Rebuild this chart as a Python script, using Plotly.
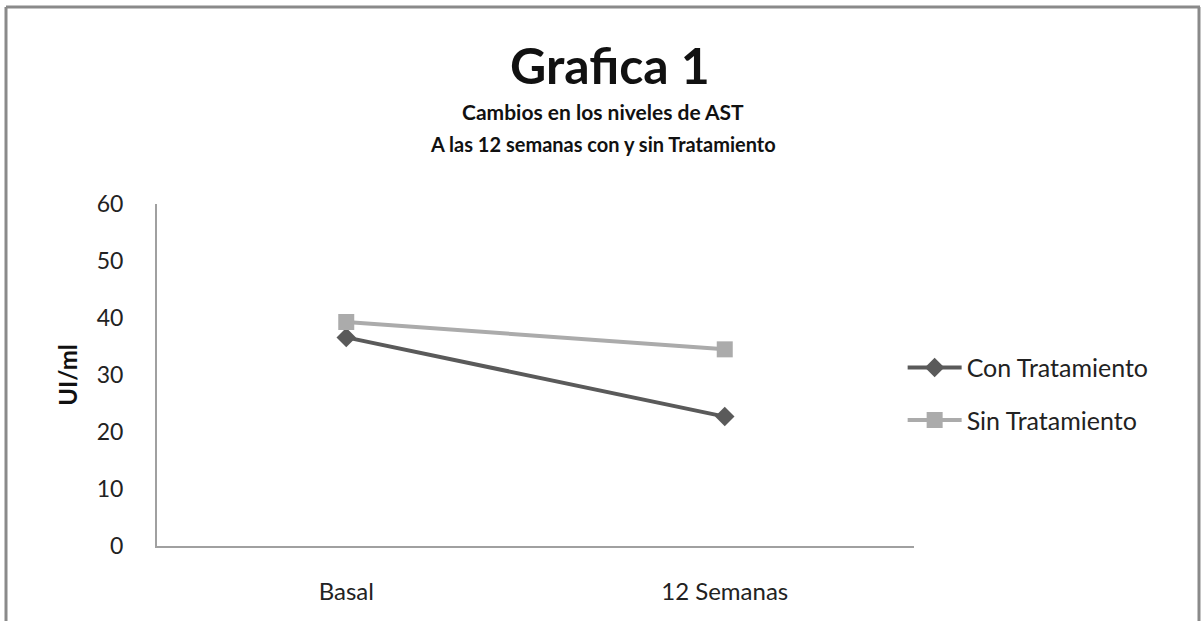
import plotly.graph_objects as go

# Chart data
categories = ["Basal", "12 Semanas"]
con_tratamiento = [36.6, 22.7]
sin_tratamiento = [39.3, 34.5]
y_ticks = [0, 10, 20, 30, 40, 50, 60]

FONT = "Lato, 'Open Sans', sans-serif"

fig = go.Figure()

fig.add_trace(go.Scatter(
    x=categories, y=con_tratamiento, name="Con Tratamiento",
    mode="lines+markers", legendgroup="con",
    line=dict(color="#5a5a5a", width=4),
    marker=dict(symbol="diamond", size=15, color="#5a5a5a"),
))
fig.add_trace(go.Scatter(
    x=categories, y=sin_tratamiento, name="Sin Tratamiento",
    mode="lines+markers", legendgroup="sin",
    line=dict(color="#ababab", width=4),
    marker=dict(symbol="square", size=16, color="#ababab"),
))

fig.update_layout(
    width=1202, height=621,
    margin=dict(l=157, r=288, t=204, b=75),
    paper_bgcolor="white", plot_bgcolor="white",
    font=dict(family=FONT, color="#222222"),
    showlegend=True,
    legend=dict(
        x=0.985, y=0.445, xanchor="left", yanchor="middle",
        font=dict(size=25, color="#222222"),
        itemwidth=54, tracegroupgap=17,
        bgcolor="rgba(0,0,0,0)",
    ),
    xaxis=dict(
        type="category", range=[-0.5, 1.5],
        showline=True, linecolor="#a0a0a0", linewidth=2,
        showgrid=False, zeroline=False,
        ticks="outside", ticklen=0, ticklabelstandoff=23,
        tickfont=dict(size=24, color="#222222"),
    ),
    yaxis=dict(
        range=[0, 60], tickvals=y_ticks,
        showline=True, linecolor="#a0a0a0", linewidth=2,
        showgrid=False, zeroline=False,
        ticks="", ticklabelstandoff=27,
        tickfont=dict(size=23, color="#222222"),
        title=dict(text="<b>UI/ml</b>", font=dict(size=24, color="#111111"), standoff=12),
    ),
)

# Helpers converting pixel positions to paper coordinates
plot_h = 621 - 204 - 75
plot_w = 1202 - 157 - 288


def py(pix):
    return (621 - 75 - pix) / plot_h


def px(pix):
    return (pix - 157) / plot_w


# Title block
fig.add_annotation(text="<b>Grafica 1</b>", x=px(610), y=py(65), xref="paper", yref="paper",
                   showarrow=False, font=dict(size=50, color="#111111", family=FONT),
                   xanchor="center", yanchor="middle")
fig.add_annotation(text="<b>Cambios en los niveles de AST</b>", x=px(603), y=py(111),
                   xref="paper", yref="paper", showarrow=False,
                   font=dict(size=21, color="#111111", family=FONT),
                   xanchor="center", yanchor="middle")
fig.add_annotation(text="<b>A las 12 semanas con y sin Tratamiento</b>", x=px(603), y=py(144),
                   xref="paper", yref="paper", showarrow=False,
                   font=dict(size=20, color="#111111", family=FONT),
                   xanchor="center", yanchor="middle")

# Outer chart frame (open at the bottom edge)
frame = dict(color="#8a8a8a", width=3)
fig.add_shape(type="line", xref="paper", yref="paper",
              x0=px(6), x1=px(1200), y0=py(7), y1=py(7), line=frame)
fig.add_shape(type="line", xref="paper", yref="paper",
              x0=px(6), x1=px(6), y0=py(7), y1=py(625), line=frame)
fig.add_shape(type="line", xref="paper", yref="paper",
              x0=px(1199), x1=px(1199), y0=py(7), y1=py(625), line=frame)

fig.write_html("out.html")
